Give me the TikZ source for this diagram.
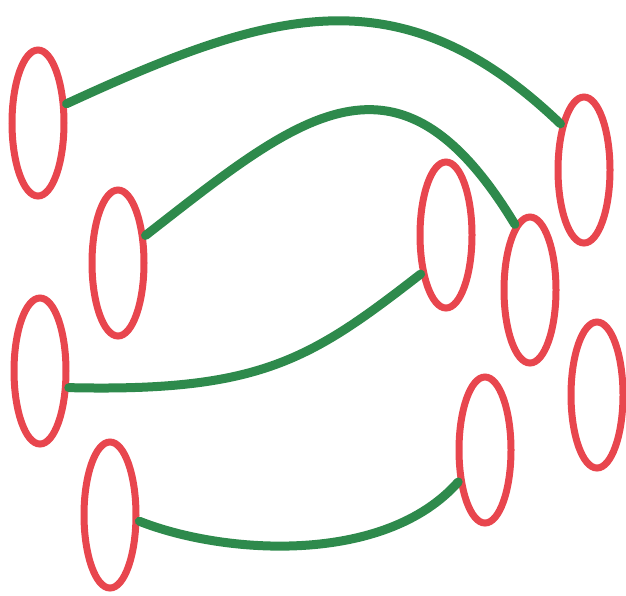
\documentclass[tikz,border=0pt]{standalone}
\usetikzlibrary{shapes.geometric}
\definecolor{ringred}{RGB}{232,70,78}
\definecolor{linkgreen}{RGB}{46,138,76}
\tikzset{
  ring/.style={ellipse, draw=ringred, line width=7pt, minimum width=52pt, minimum height=146pt, inner sep=0pt},
  link/.style={draw=linkgreen, line width=9pt, line cap=round}
}
\begin{document}
\begin{tikzpicture}[x=1pt,y=-1pt]
\useasboundingbox (0,0) rectangle (626,595);
\node[ring] (e1) at (38,123) {};
\node[ring] (e2) at (118,263) {};
\node[ring] (e3) at (40,371) {};
\node[ring] (e4) at (110,515) {};
\node[ring] (e5) at (446,235) {};
\node[ring] (e6) at (530,290) {};
\node[ring] (e7) at (584,170) {};
\node[ring] (e8) at (597,395) {};
\node[ring] (e9) at (485,450) {};
\draw[link] (e1.34) .. controls (270,10) and (400,-30) .. (e7.117);
\draw[link] (e2.45) .. controls (300,115) and (398,31) .. (e6.103);
\draw[link] (e3.-30) .. controls (260,392) and (310,360) .. (e5.237);
\draw[link] (e4.-12) .. controls (225,555) and (385,565) .. (e9.230);
\end{tikzpicture}
\end{document}
